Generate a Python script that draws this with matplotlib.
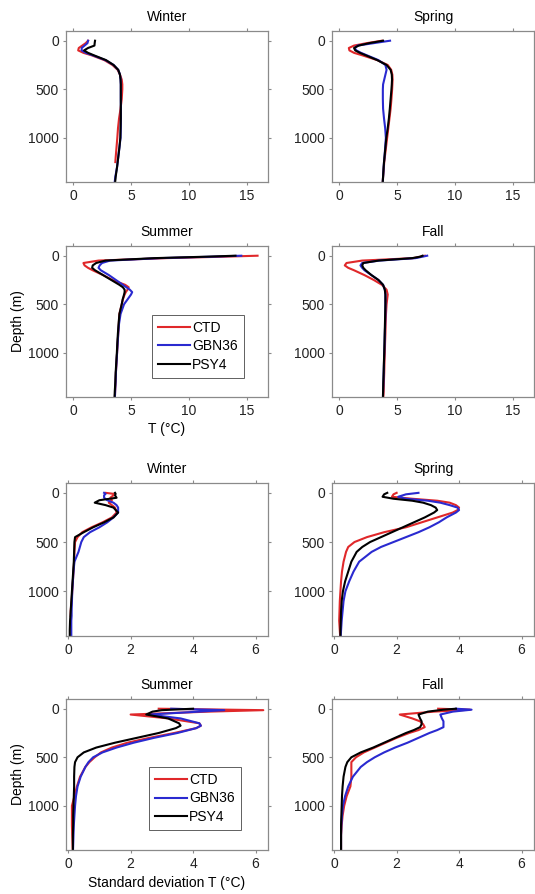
import numpy as np
import matplotlib
matplotlib.use("Agg")
import matplotlib.pyplot as plt

nan = np.nan
series_names = ["CTD", "GBN36", "PSY4"]
series_colors = ["#e0282a", "#2a2ad0", "#000000"]
seasons = ["Winter", "Spring", "Summer", "Fall"]

# ---------------- Temperature profiles ----------------
z_T_winter = [0, 25, 50, 75, 100, 125, 150, 200, 250, 300, 350, 400, 450, 500, 600, 700, 800, 900, 1000, 1100, 1200, 1250, 1300, 1400, 1500]
T_winter_ctd = [1.3, 1.1, 0.8, 0.5, 0.45, 0.9, 1.6, 2.7, 3.4, 3.85, 4.05, 4.2, 4.25, 4.25, 4.2, 4.1, 3.97, 3.88, 3.82, 3.75, 3.68, 3.65, nan, nan, nan]
T_winter_gbn = [1.3, 1.25, 1.0, 0.75, 0.75, 1.1, 1.7, 2.8, 3.5, 3.9, 4.05, 4.1, 4.12, 4.12, 4.12, 4.13, 4.13, 4.12, 4.1, 4.0, 3.9, 3.85, 3.8, 3.65, 3.55]
T_winter_psy = [1.9, 1.87, 1.85, 1.3, 0.95, 1.3, 1.8, 2.85, 3.5, 3.9, 4.05, 4.1, 4.12, 4.12, 4.12, 4.12, 4.12, 4.1, 4.08, 4.0, 3.9, 3.85, 3.8, 3.68, 3.6]

z_T_spring = [0, 25, 50, 75, 100, 125, 150, 200, 250, 300, 350, 400, 450, 500, 600, 700, 800, 900, 1000, 1100, 1200, 1250, 1300, 1400, 1500]
T_spring_ctd = [3.7, 2.4, 1.3, 0.85, 0.9, 1.3, 2.0, 3.3, 4.2, 4.5, 4.6, 4.62, 4.6, 4.58, 4.52, 4.45, 4.35, 4.25, 4.15, 4.05, 3.95, 3.9, 3.87, 3.8, 3.75]
T_spring_gbn = [4.4, 3.0, 1.6, 1.35, 1.5, 1.9, 2.4, 3.4, 4.0, 4.1, 4.0, 3.9, 3.8, 3.78, 3.78, 3.8, 3.88, 3.98, 4.04, 3.98, 3.92, 3.88, 3.85, 3.8, 3.75]
T_spring_psy = [3.8, 2.6, 1.7, 1.3, 1.4, 1.8, 2.3, 3.3, 4.1, 4.45, 4.55, 4.57, 4.55, 4.52, 4.45, 4.38, 4.3, 4.2, 4.08, 4.0, 3.92, 3.88, 3.85, 3.8, 3.75]

z_T_summer = [0, 10, 25, 50, 75, 100, 125, 150, 200, 250, 300, 325, 350, 375, 400, 450, 500, 600, 700, 800, 900, 1000, 1100, 1200, 1300, 1400, 1500]
T_summer_ctd = [15.9, 13.0, 8.0, 2.2, 0.9, 1.0, 1.3, 1.7, 2.6, 3.4, 4.5, 4.8, 4.7, 4.55, 4.45, 4.3, 4.2, 4.0, 3.95, 3.9, 3.85, 3.8, 3.75, 3.7, 3.67, 3.63, 3.6]
T_summer_gbn = [14.5, 12.0, 7.5, 3.2, 2.5, 2.3, 2.2, 2.4, 3.1, 3.7, 4.3, 4.6, 4.9, 5.1, 5.0, 4.7, 4.4, 4.1, 3.97, 3.9, 3.85, 3.8, 3.75, 3.7, 3.67, 3.63, 3.6]
T_summer_psy = [14.0, 11.5, 7.0, 2.8, 2.0, 1.7, 1.65, 1.9, 2.6, 3.3, 4.0, 4.3, 4.45, 4.45, 4.4, 4.28, 4.2, 4.0, 3.93, 3.87, 3.82, 3.78, 3.73, 3.68, 3.65, 3.6, 3.57]

z_T_fall = [0, 10, 25, 50, 75, 100, 125, 150, 200, 250, 300, 350, 400, 450, 500, 600, 700, 800, 900, 1000, 1100, 1200, 1300, 1400, 1500]
T_fall_ctd = [7.4, 7.0, 6.4, 2.0, 0.65, 0.5, 0.8, 1.3, 2.2, 3.0, 3.7, 4.1, 4.2, 4.15, 4.1, 4.05, 4.02, 4.0, 3.97, 3.95, 3.92, 3.9, 3.87, 3.85, 3.8]
T_fall_gbn = [7.6, 7.2, 6.6, 3.5, 2.0, 1.85, 2.0, 2.2, 2.8, 3.4, 3.8, 3.95, 4.0, 4.0, 4.0, 4.0, 3.98, 3.95, 3.93, 3.9, 3.88, 3.85, 3.83, 3.8, 3.78]
T_fall_psy = [7.2, 7.0, 6.3, 3.4, 2.1, 2.0, 2.1, 2.3, 2.8, 3.4, 3.8, 3.95, 4.0, 4.0, 4.0, 3.98, 3.96, 3.94, 3.92, 3.9, 3.87, 3.85, 3.82, 3.8, 3.78]

# ---------------- Standard deviation profiles ----------------
z_S_winter = [0, 10, 25, 50, 75, 100, 125, 150, 200, 250, 300, 350, 400, 450, 500, 600, 700, 800, 900, 1000, 1100, 1200, 1250, 1300, 1400, 1500]
S_winter_ctd = [1.2, 1.45, 1.45, 1.35, 1.4, 1.3, 1.4, 1.5, 1.55, 1.4, 1.1, 0.75, 0.45, 0.3, 0.22, 0.2, 0.19, 0.17, 0.15, 0.13, 0.11, 0.08, 0.08, nan, nan, nan]
S_winter_gbn = [1.15, 1.2, 1.15, 1.15, 1.25, 1.45, 1.55, 1.6, 1.6, 1.45, 1.25, 1.0, 0.7, 0.5, 0.42, 0.33, 0.2, 0.17, 0.15, 0.13, 0.12, 0.11, 0.11, 0.1, 0.1, 0.1]
S_winter_psy = [1.5, 1.52, 1.5, 1.55, 1.0, 0.85, 1.2, 1.45, 1.6, 1.45, 1.15, 0.8, 0.5, 0.22, 0.2, 0.19, 0.18, 0.16, 0.14, 0.12, 0.1, 0.08, 0.07, 0.06, 0.05, 0.05]

z_S_spring = [0, 15, 40, 60, 80, 100, 125, 150, 175, 200, 250, 300, 350, 400, 450, 500, 550, 600, 700, 800, 900, 1000, 1100, 1200, 1300, 1400, 1500]
S_spring_ctd = [2.0, 1.9, 1.85, 2.5, 3.3, 3.7, 3.9, 4.0, 3.95, 3.8, 3.3, 2.8, 2.3, 1.6, 1.05, 0.65, 0.45, 0.38, 0.3, 0.25, 0.22, 0.2, 0.18, 0.17, 0.16, 0.18, 0.2]
S_spring_gbn = [2.7, 2.3, 2.05, 2.3, 3.0, 3.4, 3.7, 3.95, 4.0, 3.9, 3.6, 3.35, 3.05, 2.7, 2.3, 1.9, 1.5, 1.2, 0.8, 0.62, 0.48, 0.36, 0.3, 0.27, 0.24, 0.22, 0.2]
S_spring_psy = [1.7, 1.6, 1.55, 1.9, 2.5, 2.85, 3.1, 3.25, 3.3, 3.2, 2.9, 2.55, 2.2, 1.85, 1.5, 1.15, 0.9, 0.72, 0.55, 0.45, 0.35, 0.28, 0.24, 0.22, 0.21, 0.2, 0.2]

z_S_summer = [0, 15, 30, 60, 100, 150, 175, 200, 250, 300, 350, 400, 450, 500, 550, 600, 700, 800, 900, 1000, 1100, 1200, 1300, 1400, 1500]
S_summer_ctd = [2.9, 6.25, 4.5, 2.0, 3.2, 4.2, 4.25, 4.1, 3.4, 2.6, 1.9, 1.4, 1.05, 0.85, 0.68, 0.55, 0.38, 0.28, 0.2, 0.12, 0.12, 0.12, 0.13, 0.14, 0.15]
S_summer_gbn = [3.3, 5.0, 4.2, 2.6, 3.6, 4.2, 4.25, 4.1, 3.5, 2.75, 2.1, 1.55, 1.1, 0.8, 0.65, 0.55, 0.4, 0.3, 0.25, 0.22, 0.2, 0.18, 0.17, 0.16, 0.15]
S_summer_psy = [4.0, 3.0, 2.7, 2.5, 3.2, 3.55, 3.6, 3.45, 2.9, 2.2, 1.5, 0.9, 0.5, 0.3, 0.22, 0.2, 0.19, 0.19, 0.18, 0.17, 0.16, 0.16, 0.15, 0.15, 0.15]

z_S_fall = [0, 10, 30, 60, 100, 130, 160, 190, 220, 250, 300, 350, 400, 450, 500, 550, 600, 700, 800, 900, 1000, 1100, 1200, 1300, 1400, 1500]
S_fall_ctd = [3.33, 4.35, 3.2, 2.1, 2.5, 2.75, 2.85, 2.9, 2.7, 2.4, 2.0, 1.65, 1.3, 0.95, 0.7, 0.55, 0.55, 0.55, 0.52, 0.4, 0.32, 0.27, 0.24, 0.22, 0.22, 0.22]
S_fall_gbn = [3.9, 4.4, 3.8, 3.4, 3.45, 3.5, 3.5, 3.5, 3.3, 3.05, 2.7, 2.35, 1.95, 1.6, 1.3, 1.05, 0.85, 0.6, 0.45, 0.35, 0.28, 0.25, 0.23, 0.22, 0.22, 0.22]
S_fall_psy = [3.9, 3.5, 3.0, 2.7, 2.75, 2.8, 2.8, 2.75, 2.55, 2.3, 1.95, 1.6, 1.25, 0.85, 0.55, 0.42, 0.36, 0.3, 0.27, 0.25, 0.24, 0.23, 0.22, 0.22, 0.22, 0.22]

T_panels = [
    (z_T_winter, [T_winter_ctd, T_winter_gbn, T_winter_psy]),
    (z_T_spring, [T_spring_ctd, T_spring_gbn, T_spring_psy]),
    (z_T_summer, [T_summer_ctd, T_summer_gbn, T_summer_psy]),
    (z_T_fall, [T_fall_ctd, T_fall_gbn, T_fall_psy]),
]
S_panels = [
    (z_S_winter, [S_winter_ctd, S_winter_gbn, S_winter_psy]),
    (z_S_spring, [S_spring_ctd, S_spring_gbn, S_spring_psy]),
    (z_S_summer, [S_summer_ctd, S_summer_gbn, S_summer_psy]),
    (z_S_fall, [S_fall_ctd, S_fall_gbn, S_fall_psy]),
]

FS = 10
plt.rcParams['font.family'] = ['Liberation Sans', 'DejaVu Sans']
plt.rcParams['font.size'] = FS

W, H = 535, 894
fig = plt.figure(figsize=(W / 100, H / 100), dpi=100)

col_left = [66, 332]
axw = 202
row_tops = [31, 246, 483, 699]
row_h = [151, 151, 153, 151]

spine_c = "#8a8a8a"

def make_ax(r, c):
    l = col_left[c] / W
    b = 1 - (row_tops[r] + row_h[r]) / H
    return fig.add_axes([l, b, axw / W, row_h[r] / H])

def style(ax, xticks, xlim):
    for s in ax.spines.values():
        s.set_color(spine_c)
        s.set_linewidth(0.9)
    ax.set_xlim(*xlim)
    ax.set_ylim(1455, -100)
    ax.set_xticks(xticks)
    ax.set_yticks([0, 500, 1000])
    ax.tick_params(direction='out', length=2.5, width=0.8, color=spine_c,
                   labelsize=FS, labelcolor="#222222", top=True, right=True,
                   pad=2.5)

def add_legend(ax, anchor):
    leg = ax.legend(loc='lower left', bbox_to_anchor=anchor,
                    borderaxespad=0, fancybox=False, framealpha=1,
                    edgecolor="#606060", fontsize=FS, handlelength=2.3,
                    handletextpad=0.12, labelspacing=0.32, borderpad=0.45)
    leg.get_frame().set_linewidth(0.7)

for i, (z, vals) in enumerate(T_panels):
    r, c = divmod(i, 2)
    ax = make_ax(r, c)
    for v, name, col in zip(vals, series_names, series_colors):
        ax.plot(v, z, color=col, lw=1.5, label=name)
    style(ax, [0, 5, 10, 15], (-0.6, 16.8))
    ax.set_title(seasons[i], fontsize=FS, pad=7.5)
    if i == 2:
        ax.set_ylabel("Depth (m)", fontsize=FS, labelpad=2)
        ax.set_xlabel("T (°C)", fontsize=FS, labelpad=3)
        add_legend(ax, (0.426, 0.126))

for i, (z, vals) in enumerate(S_panels):
    r, c = divmod(i, 2)
    ax = make_ax(r + 2, c)
    for v, name, col in zip(vals, series_names, series_colors):
        ax.plot(v, z, color=col, lw=1.5, label=name)
    style(ax, [0, 2, 4, 6], (-0.07, 6.4))
    ax.set_title(seasons[i], fontsize=FS, pad=7.5)
    if i == 2:
        ax.set_ylabel("Depth (m)", fontsize=FS, labelpad=2)
        ax.set_xlabel("Standard deviation T (°C)", fontsize=FS, labelpad=4)
        add_legend(ax, (0.411, 0.132))

fig.savefig("out.png", dpi=100)
